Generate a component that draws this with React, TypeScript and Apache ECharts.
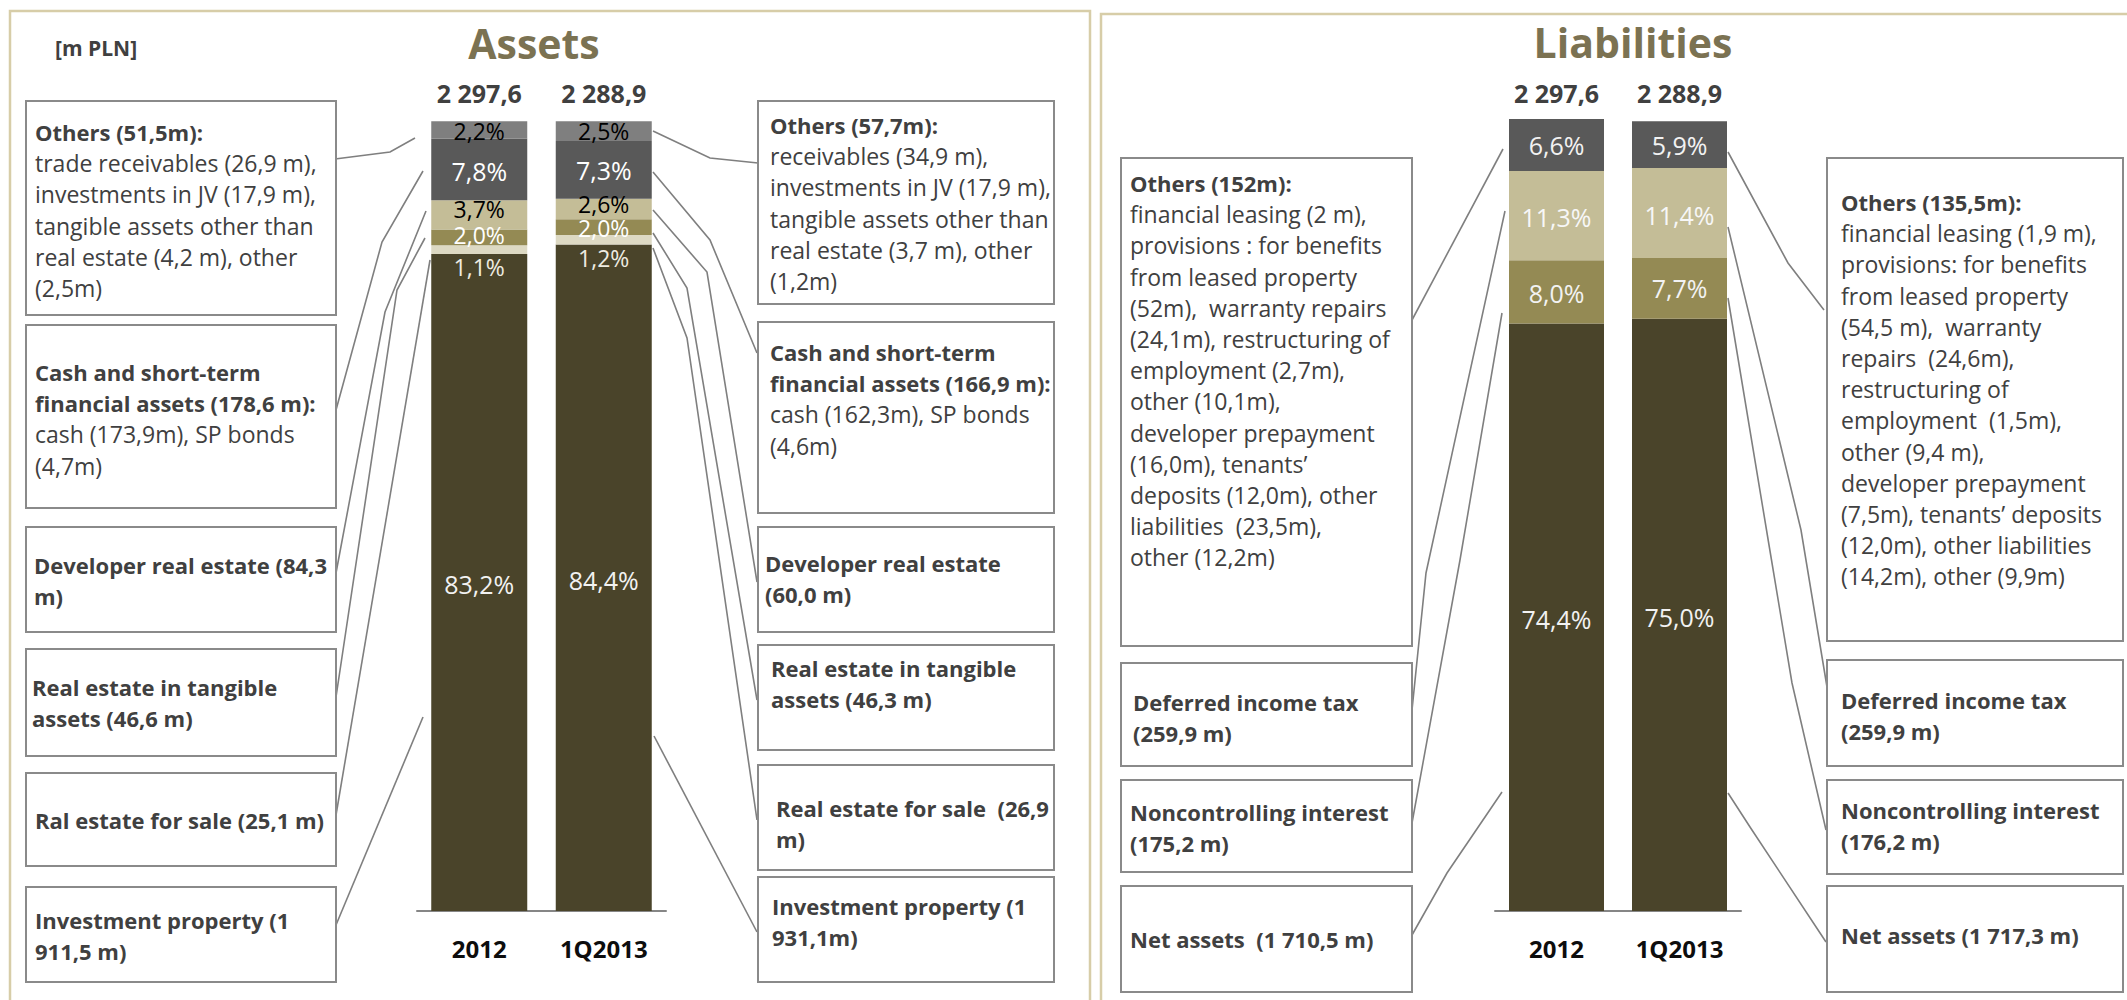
import React, { useEffect, useRef } from "react";
import * as echarts from "echarts";

// ---------------- DATA ----------------
const categories = ["2012", "1Q2013"];
const assetsTotals = [2297.6, 2288.9];
const liabilitiesTotals = [2297.6, 2288.9];

// Assets structure, % of total (bottom to top)
const investmentProperty = [83.2, 84.4];
const realEstateForSale = [1.1, 1.2];
const realEstateTangible = [2.0, 2.0];
const developerRealEstate = [3.7, 2.6];
const cashShortTerm = [7.8, 7.3];
const assetsOthers = [2.2, 2.5];

// Liabilities structure, % of total (bottom to top)
const netAssets = [74.4, 75.0];
const noncontrolling = [8.0, 7.7];
const deferredTax = [11.3, 11.4];
const liabilitiesOthers = [6.6, 5.9];

// Notes
const assetsLeftNotes = [
  { bold: ["Others (51,5m):"], reg: ["trade receivables (26,9 m),", "investments in JV (17,9 m),", "tangible assets other than", "real estate (4,2 m), other", "(2,5m)"] },
  { bold: ["Cash and short-term", "financial assets (178,6 m):"], reg: ["cash (173,9m), SP bonds", "(4,7m)"] },
  { bold: ["Developer real estate (84,3", "m)"], reg: [] },
  { bold: ["Real estate in tangible", "assets (46,6 m)"], reg: [] },
  { bold: ["Ral estate for sale (25,1 m)"], reg: [] },
  { bold: ["Investment property (1", "911,5 m)"], reg: [] },
];
const assetsRightNotes = [
  { bold: ["Others (57,7m):"], reg: ["receivables (34,9 m),", "investments in JV (17,9 m),", "tangible assets other than", "real estate (3,7 m), other", "(1,2m)"] },
  { bold: ["Cash and short-term", "financial assets (166,9 m):"], reg: ["cash (162,3m), SP bonds", "(4,6m)"] },
  { bold: ["Developer real estate", "(60,0 m)"], reg: [] },
  { bold: ["Real estate in tangible", "assets (46,3 m)"], reg: [] },
  { bold: ["Real estate for sale  (26,9", "m)"], reg: [] },
  { bold: ["Investment property (1", "931,1m)"], reg: [] },
];
const liabilitiesLeftNotes = [
  {
    bold: ["Others (152m):"],
    reg: ["financial leasing (2 m),", "provisions : for benefits", "from leased property", "(52m),  warranty repairs", "(24,1m), restructuring of", "employment (2,7m),", "other (10,1m),", "developer prepayment", "(16,0m), tenants’", "deposits (12,0m), other", "liabilities  (23,5m),", "other (12,2m)"],
  },
  { bold: ["Deferred income tax", "(259,9 m)"], reg: [] },
  { bold: ["Noncontrolling interest", "(175,2 m)"], reg: [] },
  { bold: ["Net assets  (1 710,5 m)"], reg: [] },
];
const liabilitiesRightNotes = [
  {
    bold: ["Others (135,5m):"],
    reg: ["financial leasing (1,9 m),", "provisions: for benefits", "from leased property", "(54,5 m),  warranty", "repairs  (24,6m),", "restructuring of", "employment  (1,5m),", "other (9,4 m),", "developer prepayment", "(7,5m), tenants’ deposits", "(12,0m), other liabilities", "(14,2m), other (9,9m)"],
  },
  { bold: ["Deferred income tax", "(259,9 m)"], reg: [] },
  { bold: ["Noncontrolling interest", "(176,2 m)"], reg: [] },
  { bold: ["Net assets (1 717,3 m)"], reg: [] },
];

// ---------------- LAYOUT / STYLE ----------------
const FONT = '"Open Sans", "Noto Sans", sans-serif';
const TEXT = "#404040";
const BOX_STROKE = "#8a8a8a";
const LINE = "#7f7f7f";
const PANEL = "#d7cda8";
const TITLE = "#7b7252";
const LINE_H = 31.2;

const C_DARK = "#4a442a";
const C_PALE = "#ddd9c3";
const C_OLIVE = "#948a54";
const C_BEIGE = "#c4bd97";
const C_DGRAY = "#595959";
const C_GRAY = "#7f7f7f";

// box frames: x, y, w, h, text x, first line y
const assetsLeftBoxes = [
  [26, 101, 310, 214, 35, 132],
  [26, 325, 310, 183, 35, 372],
  [26, 527, 310, 105, 34, 565],
  [26, 649, 310, 107, 32, 687],
  [26, 773, 310, 93, 35, 820],
  [26, 887, 310, 95, 35, 920],
];
const assetsRightBoxes = [
  [758, 101, 296, 203, 770, 125],
  [758, 322, 296, 191, 770, 352],
  [758, 527, 296, 105, 765, 563],
  [758, 645, 296, 105, 771, 668],
  [758, 765, 296, 105, 776, 808],
  [758, 877, 296, 105, 772, 906],
];
const liabilitiesLeftBoxes = [
  [1121, 158, 291, 488, 1130, 183],
  [1121, 663, 291, 103, 1133, 702],
  [1121, 780, 291, 92, 1130, 812],
  [1121, 886, 291, 106, 1130, 939],
];
const liabilitiesRightBoxes = [
  [1827, 158, 296, 483, 1841, 202],
  [1827, 660, 296, 106, 1841, 700],
  [1827, 780, 296, 94, 1841, 810],
  [1827, 886, 296, 106, 1841, 935],
];

const connectors = [
  // assets, left of 2012
  [[415, 138], [390, 152], [335, 159]],
  [[423, 171], [382, 242], [336, 410]],
  [[426, 211], [385, 312], [336, 573]],
  [[425, 238], [397, 290], [336, 697]],
  [[430, 260], [336, 815]],
  [[423, 717], [336, 925]],
  // assets, right of 1Q2013
  [[653, 131], [710, 158], [758, 163]],
  [[653, 172], [710, 240], [757, 353]],
  [[653, 210], [707, 272], [757, 582]],
  [[653, 233], [687, 288], [757, 700]],
  [[653, 248], [687, 338], [757, 820]],
  [[654, 736], [757, 932]],
  // liabilities, left of 2012
  [[1503, 149], [1412, 320]],
  [[1505, 211], [1426, 573], [1412, 710]],
  [[1502, 313], [1460, 560], [1412, 823]],
  [[1502, 792], [1447, 873], [1412, 935]],
  // liabilities, right of 1Q2013
  [[1728, 152], [1788, 263], [1824, 310]],
  [[1728, 227], [1801, 530], [1827, 687]],
  [[1728, 298], [1769, 545], [1792, 683], [1826, 830]],
  [[1728, 793], [1750, 827], [1826, 942]],
];

const fmtPct = (v: number) => v.toFixed(1).replace(".", ",") + "%";
const fmtTotal = (v: number) => {
  const [i, d] = v.toFixed(1).split(".");
  return i.replace(/\B(?=(\d{3})+(?!\d))/g, " ") + "," + d;
};

function textEl(text: string, x: number, y: number, size: number, weight: string, fill: string, align = "left") {
  return {
    type: "text",
    x,
    y,
    silent: true,
    style: {
      text,
      fill,
      fontSize: size,
      fontWeight: weight,
      fontFamily: FONT,
      align,
      verticalAlign: "middle",
      textAlign: align,
      textVerticalAlign: "middle",
    },
  };
}

function buildNotes(frames: number[][], notes: { bold: string[]; reg: string[] }[]) {
  const els: any[] = [];
  frames.forEach((f, k) => {
    const [x, y, w, h, tx, ty] = f;
    els.push({
      type: "rect",
      silent: true,
      shape: { x, y, width: w, height: h },
      style: { fill: "#ffffff", stroke: BOX_STROKE, lineWidth: 2 },
    });
    const n = notes[k];
    let li = 0;
    n.bold.forEach((t) => {
      els.push(textEl(t, tx, ty + li * LINE_H, 22, "bold", TEXT));
      li++;
    });
    n.reg.forEach((t) => {
      els.push(textEl(t, tx, ty + li * LINE_H, 23, "normal", TEXT));
      li++;
    });
  });
  return els;
}

function barSeries(
  name: string,
  stack: string,
  axis: number,
  values: number[],
  color: string,
  labelColor: string,
  offsets: number[],
  barWidth: number,
  fontSize = 25
) {
  return {
    name,
    type: "bar",
    stack,
    xAxisIndex: axis === 0 ? 0 : 2,
    yAxisIndex: axis,
    barWidth,
    itemStyle: { color },
    label: {
      show: true,
      position: "inside",
      color: labelColor,
      fontFamily: FONT,
      fontSize,
      lineHeight: fontSize - 2,
      formatter: (p: any) => fmtPct(p.value),
    },
    data: values.map((v, i) => ({ value: v, label: { offset: [0, offsets[i]] } })),
  };
}

function bottomAxis(grid: number) {
  return {
    type: "category",
    gridIndex: grid,
    data: categories,
    axisLine: { lineStyle: { color: "#868686", width: 2 } },
    axisTick: { show: false },
    axisLabel: { fontFamily: FONT, fontWeight: "bold", fontSize: 24, lineHeight: 24, color: "#0d0d0d", margin: 25 },
  };
}
function topAxis(grid: number, totals: number[]) {
  return {
    type: "category",
    gridIndex: grid,
    position: "top",
    data: totals.map(fmtTotal),
    axisLine: { show: false, onZero: false },
    axisTick: { show: false },
    axisLabel: { fontFamily: FONT, fontWeight: "bold", fontSize: 25, lineHeight: 25, color: TEXT, margin: 14 },
  };
}

export default function App() {
  const ref = useRef<HTMLDivElement>(null);
  useEffect(() => {
    if (!ref.current) return;
    const chart = echarts.init(ref.current, undefined, { renderer: "svg" });

    const graphics: any[] = [
      { type: "rect", silent: true, shape: { x: 10, y: 11, width: 1080, height: 1010 }, style: { fill: "none", stroke: PANEL, lineWidth: 2.5 } },
      { type: "rect", silent: true, shape: { x: 1101, y: 14, width: 1060, height: 1010 }, style: { fill: "none", stroke: PANEL, lineWidth: 2.5 } },
      textEl("Assets", 534, 43, 41, "bold", TITLE, "center"),
      textEl("Liabilities", 1633, 42, 41, "bold", TITLE, "center"),
      textEl("[m PLN]", 55, 48, 21, "bold", TEXT),
      ...connectors.map((pts) => ({
        type: "polyline",
        silent: true,
        shape: { points: pts },
        style: { stroke: LINE, lineWidth: 1.6, fill: "none" },
      })),
      ...buildNotes(assetsLeftBoxes, assetsLeftNotes),
      ...buildNotes(assetsRightBoxes, assetsRightNotes),
      ...buildNotes(liabilitiesLeftBoxes, liabilitiesLeftNotes),
      ...buildNotes(liabilitiesRightBoxes, liabilitiesRightNotes),
    ];

    chart.setOption({
      animation: false,
      backgroundColor: "#ffffff",
      grid: [
        { left: 417, top: 119, width: 249, height: 792 },
        { left: 1495, top: 119, width: 246, height: 792 },
      ],
      xAxis: [bottomAxis(0), topAxis(0, assetsTotals), bottomAxis(1), topAxis(1, liabilitiesTotals)],
      yAxis: [
        { type: "value", gridIndex: 0, min: 0, max: 100.3, show: false },
        { type: "value", gridIndex: 1, min: 0, max: 100.3, show: false },
      ],
      series: [
        barSeries("Investment property", "a", 0, investmentProperty, C_DARK, "#f2f2f2", [1, 2], 96),
        barSeries("Real estate for sale", "a", 0, realEstateForSale, C_PALE, "#eeece1", [17, 18], 96, 23),
        barSeries("Real estate in tangible assets", "a", 0, realEstateTangible, C_OLIVE, "#ffffff", [-2, 1], 96, 23),
        barSeries("Developer real estate", "a", 0, developerRealEstate, C_BEIGE, "#000000", [-6, -5], 96, 23),
        barSeries("Cash and short-term financial assets", "a", 0, cashShortTerm, C_DGRAY, "#ffffff", [1, 0], 96),
        barSeries("Others", "a", 0, assetsOthers, C_GRAY, "#000000", [1, 0], 96, 23),
        barSeries("Net assets", "l", 1, netAssets, C_DARK, "#f2f2f2", [2, 2], 95),
        barSeries("Noncontrolling interest", "l", 1, noncontrolling, C_OLIVE, "#f2f2f2", [1, 0], 95),
        barSeries("Deferred income tax", "l", 1, deferredTax, C_BEIGE, "#f7f7f7", [1, 2], 95),
        barSeries("Others", "l", 1, liabilitiesOthers, C_DGRAY, "#f2f2f2", [0, 0], 95),
      ],
      graphic: { elements: graphics },
    });
    return () => chart.dispose();
  }, []);
  return (
    <div
      ref={ref}
      style={{ position: "absolute", left: 0, top: 0, width: 2127, height: 1000, background: "#fff" }}
    />
  );
}
